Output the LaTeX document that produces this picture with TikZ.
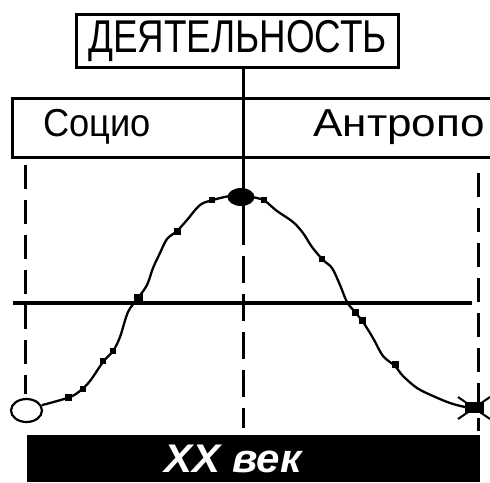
\documentclass[tikz,border=0pt]{standalone}
\usepackage{fontspec}
\setmainfont{Liberation Sans}
\usetikzlibrary{shapes.geometric}
\begin{document}
\begin{tikzpicture}[x=1pt,y=-1pt,
  thick3/.style={line width=3pt},
  dashline/.style={line width=3pt, dash pattern=on 24pt off 11pt},
  curveline/.style={line width=2.3pt},
  marksq/.style={fill=black, inner sep=0pt, minimum size=#1},
  lbl/.style={inner sep=0pt, font=\fontsize{39}{39}\selectfont}]
\useasboundingbox (0,0) rectangle (490,482);
\fill[white] (0,0) rectangle (490,482);
% top box
\node[draw, thick3, minimum width=322pt, minimum height=53pt, inner sep=0pt,
      font=\fontsize{46}{46}\selectfont] (act) at (237.5,41) {\scalebox{0.8}[1]{ДЕЯТЕЛЬНОСТЬ}};
% band
\coordinate (bandTL) at (12,98);
\coordinate (bandBL) at (12,157);
\coordinate (bandTR) at (492,98);
\coordinate (bandBR) at (492,157);
\draw[thick3] (bandTR) -- (bandTL) -- (bandBL) -- (bandBR);
\coordinate (bandN) at (243,98);
\coordinate (bandS) at (243,157);
\node[lbl] (socio) at (97,127) {\scalebox{0.93}[1]{Социо}};
\node[lbl] (anthro) at (399,127) {\scalebox{1.13}[1]{Антропо}};
% peak
\node[ellipse, fill=black, minimum width=27pt, minimum height=18pt, inner sep=0pt] (peak) at (241,197) {};
% center line
\coordinate (cdash) at (243,218);
\coordinate (cend) at (243,428);
\draw[thick3] (act.south -| bandN) -- (bandS) -- (cdash);
\draw[dashline, dash pattern=on 27pt off 11pt] (cdash) -- (cend);
% side dashed lines
\coordinate (l1) at (25,165); \coordinate (l2) at (25,394);
\coordinate (r1) at (478,173); \coordinate (r2) at (478,431);
\draw[dashline] (l1) -- (l2);
\draw[dashline] (r1) -- (r2);
% horizontal axis
\coordinate (h1) at (13,303); \coordinate (h2) at (472,303);
\draw[line width=3.5pt] (h1) -- (h2);
% start ellipse
\node[ellipse, draw, line width=2.2pt, minimum width=31pt, minimum height=23pt, inner sep=0pt, fill=white] (start) at (26.5,410.5) {};
% end X
\coordinate (endpt) at (474,408);
\draw[line width=2pt] (458,397) -- (490,419) (458,419) -- (490,397);
\fill (465,402) rectangle (484,413);
% curve
\draw[curveline] plot[smooth, tension=0.55] coordinates {
 (42,405) (50,403) (70,397) (80,391) (90,381) (103,362) (113,351) (120,337)
 (128,312) (138,298) (147,285) (153,268) (160,253) (167,239) (177,231) (187,220)
 (200,205) (213,200) (230,196) (243,196) (257,198) (265,201) (277,211) (293,222)
 (303,233) (312,247) (323,260) (332,268) (340,285) (347,302) (355,312) (363,322)
 (373,338) (383,356) (395,366) (403,376) (417,388) (433,396) (450,403) (465,407) (474,408)};
% marks
\node[marksq=7pt] (m1) at (68,397) {};
\node[marksq=6pt] (m2) at (83,389) {};
\node[marksq=6pt] (m3) at (103,361) {};
\node[marksq=6pt] (m4) at (113,351) {};
\node[marksq=9pt] (m5) at (138,298) {};
\node[marksq=7pt] (m6) at (177,231) {};
\node[marksq=6pt] (m7) at (212,200) {};
\node[marksq=6pt] (m8) at (264,200) {};
\node[marksq=7pt] (m9) at (355,312) {};
\node[marksq=7pt] (m10) at (362,320) {};
\node[marksq=7pt] (m11) at (395,364) {};
\node[marksq=6pt] (m12) at (322,259) {};
% bottom bar
\fill[black] (27,435) rectangle (480,482);
\node[inner sep=0pt, text=white, font=\fontsize{40}{40}\selectfont\bfseries\itshape] (era) at (233,459) {\scalebox{1.05}[1]{XX век}};
\end{tikzpicture}
\end{document}
